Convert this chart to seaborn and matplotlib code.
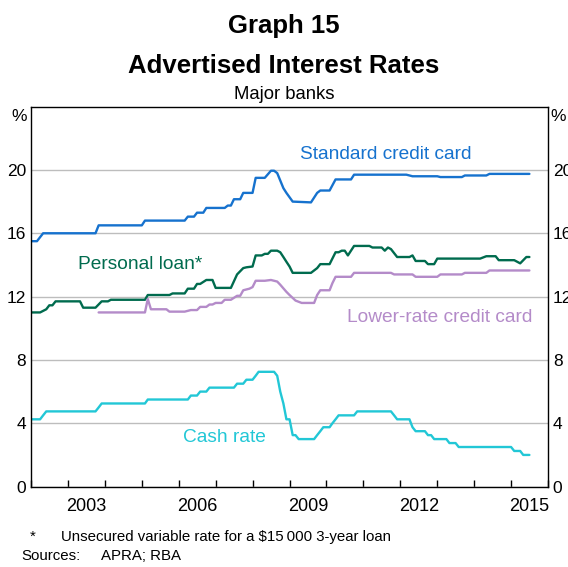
import pandas as pd
import matplotlib
matplotlib.use('Agg')
import matplotlib.pyplot as plt
import matplotlib.dates as mdates
import seaborn as sns

# Datas e valores (pontos onde a linha muda)
std_dates = ['2002-01', '2002-03', '2002-05', '2003-10', '2003-11', '2005-01', '2005-02',
             '2006-03', '2006-04', '2006-06', '2006-07', '2006-09', '2006-10', '2007-04',
             '2007-05', '2007-06', '2007-07', '2007-09', '2007-10', '2008-01', '2008-02',
             '2008-05', '2008-07', '2008-08', '2008-09', '2008-11', '2008-12', '2009-02',
             '2009-08', '2009-10', '2009-11', '2010-02', '2010-04', '2010-09', '2010-10',
             '2012-03', '2012-04', '2012-05', '2013-01', '2013-02', '2013-09', '2013-10',
             '2014-05', '2014-06', '2015-07']
std_vals = [15.5, 15.5, 16.0, 16.0, 16.5, 16.5, 16.8,
            16.8, 17.05, 17.05, 17.3, 17.3, 17.6, 17.6,
            17.75, 17.75, 18.15, 18.15, 18.55, 18.55, 19.5,
            19.5, 19.95, 19.95, 19.8, 18.85, 18.55, 18.0,
            17.95, 18.55, 18.7, 18.7, 19.4, 19.4, 19.7,
            19.7, 19.65, 19.6, 19.6, 19.55, 19.55, 19.65,
            19.65, 19.75, 19.75]

pl_dates = ['2002-01', '2002-04', '2002-06', '2002-07', '2002-08', '2002-09', '2003-05',
            '2003-06', '2003-10', '2003-12', '2004-02', '2004-03', '2005-02', '2005-03',
            '2005-10', '2005-11', '2006-03', '2006-04', '2006-06', '2006-07', '2006-08',
            '2006-10', '2006-12', '2007-01', '2007-06', '2007-08', '2007-10', '2007-11',
            '2008-01', '2008-02', '2008-04', '2008-05', '2008-06', '2008-07', '2008-09',
            '2008-10', '2008-11', '2008-12', '2009-01', '2009-02', '2009-08', '2009-10',
            '2009-11', '2010-02', '2010-04', '2010-05', '2010-06', '2010-07', '2010-08',
            '2010-10', '2011-03', '2011-04', '2011-07', '2011-08', '2011-09', '2011-10',
            '2011-12', '2012-04', '2012-05', '2012-06', '2012-09', '2012-10', '2012-12',
            '2013-01', '2014-03', '2014-05', '2014-08', '2014-09', '2015-02', '2015-04',
            '2015-06', '2015-07']
pl_vals = [11.0, 11.0, 11.2, 11.45, 11.45, 11.7, 11.7,
           11.3, 11.3, 11.7, 11.7, 11.8, 11.8, 12.1,
           12.1, 12.2, 12.2, 12.5, 12.5, 12.8, 12.8,
           13.05, 13.05, 12.55, 12.55, 13.4, 13.8, 13.85,
           13.9, 14.6, 14.6, 14.7, 14.7, 14.9, 14.9,
           14.8, 14.5, 14.2, 13.9, 13.5, 13.5, 13.8,
           14.05, 14.05, 14.8, 14.8, 14.9, 14.9, 14.6,
           15.2, 15.2, 15.1, 15.1, 14.9, 15.1, 15.0,
           14.5, 14.5, 14.6, 14.25, 14.25, 14.05, 14.05,
           14.4, 14.4, 14.55, 14.55, 14.3, 14.3, 14.1,
           14.5, 14.5]

low_dates = ['2003-11', '2005-02', '2005-03', '2005-04', '2005-09', '2005-10', '2006-03',
             '2006-05', '2006-07', '2006-08', '2006-10', '2006-11', '2006-12', '2007-01',
             '2007-03', '2007-04', '2007-06', '2007-08', '2007-09', '2007-10', '2007-12',
             '2008-01', '2008-02', '2008-05', '2008-07', '2008-09', '2008-10', '2008-12',
             '2009-01', '2009-03', '2009-05', '2009-09', '2009-10', '2009-11', '2010-02',
             '2010-03', '2010-04', '2010-09', '2010-10', '2011-10', '2011-11', '2012-05',
             '2012-06', '2013-01', '2013-02', '2013-09', '2013-10', '2014-05', '2014-06',
             '2015-07']
low_vals = [11.0, 11.0, 11.85, 11.2, 11.2, 11.05, 11.05,
            11.15, 11.15, 11.35, 11.35, 11.5, 11.5, 11.6,
            11.6, 11.8, 11.8, 12.05, 12.05, 12.4, 12.5,
            12.6, 13.0, 13.0, 13.05, 12.95, 12.75, 12.3,
            12.1, 11.75, 11.6, 11.6, 12.1, 12.4, 12.4,
            12.85, 13.25, 13.25, 13.5, 13.5, 13.4, 13.4,
            13.25, 13.25, 13.4, 13.4, 13.5, 13.5, 13.65,
            13.65]

cash_dates = ['2002-01', '2002-04', '2002-05', '2002-06', '2003-10', '2003-11', '2003-12',
              '2005-02', '2005-03', '2006-04', '2006-05', '2006-07', '2006-08', '2006-10',
              '2006-11', '2007-07', '2007-08', '2007-10', '2007-11', '2008-01', '2008-02',
              '2008-03', '2008-08', '2008-09', '2008-10', '2008-11', '2008-12', '2009-01',
              '2009-02', '2009-03', '2009-04', '2009-09', '2009-10', '2009-11', '2009-12',
              '2010-02', '2010-03', '2010-04', '2010-05', '2010-10', '2010-11', '2011-10',
              '2011-11', '2011-12', '2012-04', '2012-05', '2012-06', '2012-09', '2012-10',
              '2012-11', '2012-12', '2013-04', '2013-05', '2013-07', '2013-08', '2015-01',
              '2015-02', '2015-04', '2015-05', '2015-07']
cash_vals = [4.25, 4.25, 4.5, 4.75, 4.75, 5.0, 5.25,
             5.25, 5.5, 5.5, 5.75, 5.75, 6.0, 6.0,
             6.25, 6.25, 6.5, 6.5, 6.75, 6.75, 7.0,
             7.25, 7.25, 7.0, 6.0, 5.25, 4.25, 4.25,
             3.25, 3.25, 3.0, 3.0, 3.25, 3.5, 3.75,
             3.75, 4.0, 4.25, 4.5, 4.5, 4.75, 4.75,
             4.5, 4.25, 4.25, 3.75, 3.5, 3.5, 3.25,
             3.25, 3.0, 3.0, 2.75, 2.75, 2.5, 2.5,
             2.25, 2.25, 2.0, 2.0]

year_labels = ['2003', '2006', '2009', '2012', '2015']
y_ticks = [0, 4, 8, 12, 16, 20]

blue = '#1672CE'
green = '#006B4E'
purple = '#B48BC9'
cyan = '#22C7D6'

sns.set_theme(style='white')
plt.rcParams['font.family'] = ['Liberation Sans', 'DejaVu Sans']

fig = plt.figure(figsize=(5.68, 5.67), dpi=100)
ax = fig.add_axes([31 / 568, 1 - 486.6 / 567, 517 / 568, 380 / 567])

series = [(std_dates, std_vals, blue), (pl_dates, pl_vals, green),
          (low_dates, low_vals, purple), (cash_dates, cash_vals, cyan)]
for dates, vals, cor in series:
    df = pd.DataFrame({'data': pd.to_datetime(dates), 'taxa': vals})
    sns.lineplot(data=df, x='data', y='taxa', color=cor, linewidth=1.7, ax=ax)

ax.set_xlim(pd.Timestamp('2002-01-01'), pd.Timestamp('2016-01-01'))
ax.set_ylim(0, 24)
ax.set_xlabel('')
ax.set_ylabel('')

# marcas anuais para dentro, rótulos no meio do ano
ax.xaxis.set_major_locator(mdates.YearLocator())
ax.xaxis.set_major_formatter(plt.NullFormatter())
meio_ano = mdates.date2num(pd.to_datetime([y + '-07-02' for y in year_labels]))
ax.xaxis.set_minor_locator(plt.FixedLocator(meio_ano))
ax.xaxis.set_minor_formatter(plt.FixedFormatter(year_labels))
ax.tick_params(axis='x', which='major', direction='in', length=5, width=1,
               color='black', bottom=True)
ax.tick_params(axis='x', which='minor', length=0, pad=8.5, labelsize=13, labelcolor='black')

ax.set_yticks(y_ticks)
ax.tick_params(axis='y', length=0, pad=3.5, labelsize=12.5, labelcolor='black',
               labelleft=True, labelright=True)
ax.yaxis.grid(True, color='#BDBDBD', linewidth=1)
ax.set_axisbelow(True)

for s in ax.spines.values():
    s.set_color('black')
    s.set_linewidth(1)

ax.text(-0.008, 23.4, '%', transform=ax.get_yaxis_transform(), ha='right', va='center',
        fontsize=12.5, color='black')
ax.text(1.005, 23.4, '%', transform=ax.get_yaxis_transform(), ha='left', va='center',
        fontsize=12.5, color='black')

# rótulos das séries
ax.text(pd.Timestamp('2011-08-10'), 21.0, 'Standard credit card', color=blue,
        fontsize=13.8, ha='center', va='center')
ax.text(pd.Timestamp('2004-12-15'), 14.0, 'Personal loan*', color=green,
        fontsize=13.8, ha='center', va='center')
ax.text(pd.Timestamp('2013-01-20'), 10.65, 'Lower-rate credit card', color=purple,
        fontsize=13.8, ha='center', va='center')
ax.text(pd.Timestamp('2007-04-01'), 3.07, 'Cash rate', color=cyan,
        fontsize=13.8, ha='center', va='center')

# títulos
fig.text(0.5, 1 - 33 / 567, 'Graph 15', ha='center', va='baseline',
         fontsize=18.5, fontweight='bold', color='black')
fig.text(0.5, 1 - 73 / 567, 'Advertised Interest Rates', ha='center', va='baseline',
         fontsize=18.5, fontweight='bold', color='black')
fig.text(0.5, 1 - 99 / 567, 'Major banks', ha='center', va='baseline',
         fontsize=13.3, color='black')

# notas
fig.text(30 / 568, 1 - 541 / 567, '*', ha='left', va='baseline', fontsize=10.8, color='black')
fig.text(61 / 568, 1 - 541 / 567, 'Unsecured variable rate for a $15\u2009000 3-year loan',
         ha='left', va='baseline', fontsize=10.8, color='black')
fig.text(21 / 568, 1 - 560 / 567, 'Sources:', ha='left', va='baseline', fontsize=10.8,
         color='black')
fig.text(101 / 568, 1 - 560 / 567, 'APRA; RBA', ha='left', va='baseline', fontsize=10.8,
         color='black')

fig.savefig('out.png', dpi=100)
